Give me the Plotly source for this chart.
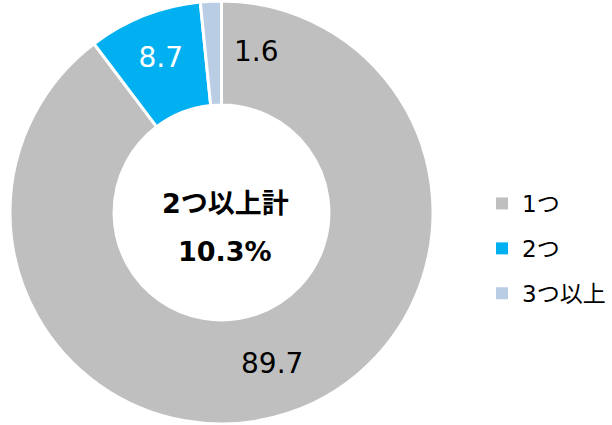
import plotly.graph_objects as go
import math

labels = ["1つ", "2つ", "3つ以上"]
values = [89.7, 8.7, 1.6]
colors = ["#BFBFBF", "#00B0F0", "#B9CDE5"]
text_colors = ["#000000", "#FFFFFF", "#000000"]
center_title = "2つ以上計"
center_value = "10.3%"

W, H = 612, 425
FONT = "DejaVu Sans, Noto Sans CJK JP"

fig = go.Figure()

cx_px, cy_px, r_px = 221.5, 211, 211.5
dom_x = [(cx_px - r_px) / W, (cx_px + r_px) / W]
dom_y = [0.0, 1.0]
fig.add_trace(go.Pie(
    labels=labels, values=values, sort=False, direction="clockwise", rotation=0,
    hole=0.508, marker=dict(colors=colors, line=dict(color="white", width=3)),
    texttemplate=["%{value}", "%{value}", ""], textposition="inside",
    insidetextorientation="horizontal",
    textfont=dict(family=FONT, size=28, color=text_colors),
    showlegend=False, domain=dict(x=dom_x, y=dom_y), hoverinfo="skip",
))

# small slice label placed just clockwise of the slice, over the ring
cum_end = sum(values)
ang = 2 * math.pi * (cum_end / sum(values)) + math.radians(11)
lab_r = 181
fig.add_annotation(
    x=(cx_px + lab_r * math.sin(ang)) / W, y=1 - (cy_px - lab_r * math.cos(ang)) / H,
    xref="paper", yref="paper", text=f"{values[-1]}", showarrow=False,
    font=dict(family=FONT, size=28, color="#000000"),
)

fig.add_annotation(x=225 / W, y=1 - 203 / H, xref="paper", yref="paper",
                   text=f"<b>{center_title}</b>", showarrow=False,
                   font=dict(family=FONT, size=27, color="#000000"))
fig.add_annotation(x=225 / W, y=1 - 252 / H, xref="paper", yref="paper",
                   text=f"<b>{center_value}</b>", showarrow=False,
                   font=dict(family=FONT, size=27, color="#000000"))

for lab, col in zip(labels, colors):
    fig.add_trace(go.Scatter(x=[None], y=[None], mode="markers", name=lab, legendgroup=lab,
                             marker=dict(symbol="square", size=12, color=col)))

fig.update_layout(
    width=W, height=H, margin=dict(l=0, r=0, t=0, b=0),
    paper_bgcolor="white", plot_bgcolor="white",
    xaxis=dict(visible=False), yaxis=dict(visible=False),
    legend=dict(x=482 / W, y=1 - 182 / H, xanchor="left", yanchor="top",
                font=dict(family=FONT, size=23, color="#000000"),
                tracegroupgap=12, itemwidth=30),
)

fig.write_html("out.html", config={"displayModeBar": False},
               post_script="document.body.style.margin='0';")
